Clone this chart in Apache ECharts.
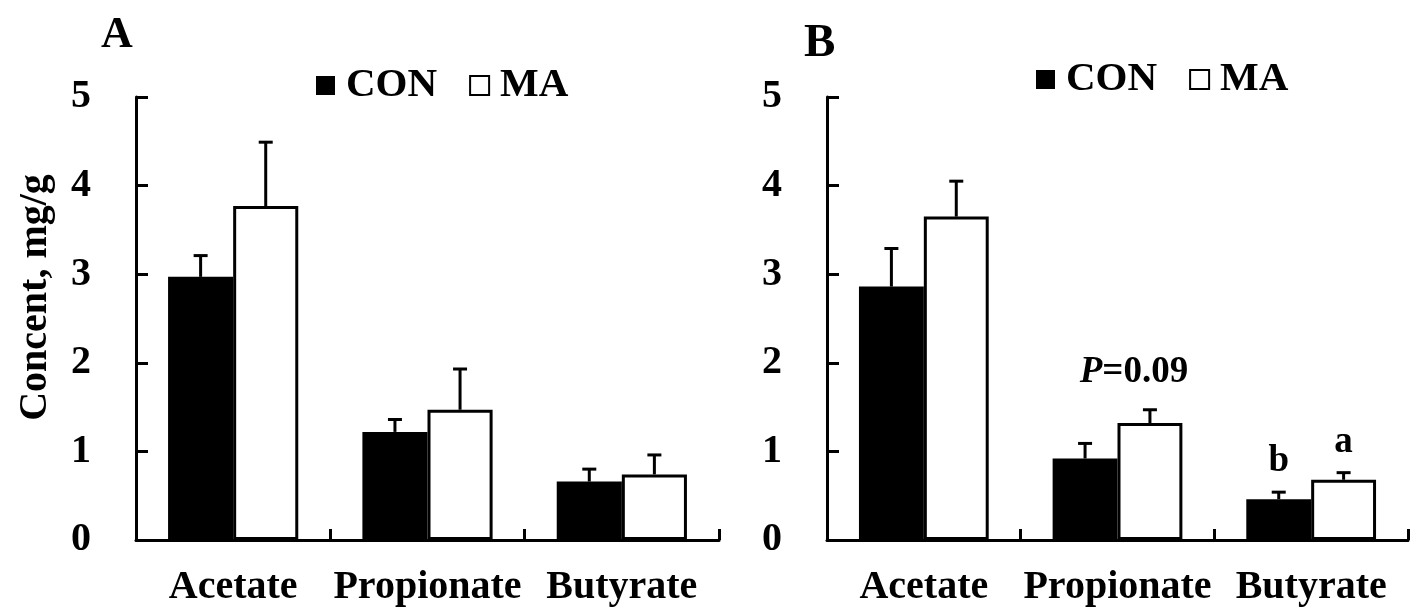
<!DOCTYPE html>
<html>
<head>
<meta charset="utf-8">
<script src="https://cdn.jsdelivr.net/npm/echarts@6/dist/echarts.min.js"></script>
<style>
  html, body { margin: 0; padding: 0; background: #fff; }
  #main { width: 1418px; height: 616px; }
</style>
</head>
<body>
<div id="main"></div>
<script>
var categories = ['Acetate', 'Propionate', 'Butyrate'];
var yTicks = [0, 1, 2, 3, 4, 5];

// panel A
var conA = [2.97, 1.22, 0.66];
var conAErr = [0.24, 0.14, 0.14];
var maA = [3.77, 1.47, 0.74];
var maAErr = [0.72, 0.46, 0.22];

// panel B
var conB = [2.86, 0.92, 0.46];
var conBErr = [0.43, 0.17, 0.08];
var maB = [3.65, 1.32, 0.68];
var maBErr = [0.40, 0.15, 0.08];
var conBNotes = ['', '', 'b'];
var maBNotes = ['', 'P=0.09', 'a'];

var FONT = 'Liberation Serif';
var GAP = 0.33;

function errData(vals, errs) {
    return vals.map(function (v, i) { return [i, v, errs[i]]; });
}

function errRender(side, notes) {
    return function (params, api) {
        var i = api.value(0), v = api.value(1), e = api.value(2);
        var band = api.size([1, 0])[0];
        var off = side * band * (1 - GAP) / 4;
        var base = api.coord([i, v]);
        var top = api.coord([i, v + e]);
        var x = base[0] + off;
        var kids = [
            { type: 'line', shape: { x1: x, y1: base[1], x2: x, y2: top[1] },
              style: { stroke: '#000', lineWidth: 3 } },
            { type: 'line', shape: { x1: x - 7, y1: top[1], x2: x + 7, y2: top[1] },
              style: { stroke: '#000', lineWidth: 3 } }
        ];
        var note = notes ? notes[params.dataIndex] : '';
        if (note) {
            var isP = note.charAt(0) === 'P';
            kids.push({
                type: 'text',
                x: isP ? x - 16 : x,
                y: top[1] - (isP ? 19 : 12),
                style: {
                    text: isP ? '{i|P}' + note.slice(1) : note,
                    fontFamily: FONT, fontWeight: 'bold', fontSize: 37,
                    fill: '#000', align: 'center', verticalAlign: 'bottom',
                    rich: { i: { fontStyle: 'italic', fontFamily: FONT, fontWeight: 'bold', fontSize: 37 } }
                }
            });
        }
        return { type: 'group', children: kids };
    };
}

function xAxisOf(idx) {
    return {
        type: 'category', gridIndex: idx, data: categories,
        axisLine: { show: true, lineStyle: { color: '#000', width: 3 } },
        axisTick: { show: true, inside: true, length: 11, interval: 0, lineStyle: { color: '#000', width: 3 } },
        axisLabel: { color: '#000', fontFamily: FONT, fontWeight: 'bold', fontSize: 40, margin: 28, interval: 0 }
    };
}

function yAxisOf(idx, name) {
    return {
        type: 'value', gridIndex: idx, min: yTicks[0], max: yTicks[yTicks.length - 1], interval: 1,
        name: name, nameLocation: 'middle', nameGap: 80, nameRotate: 90,
        nameTextStyle: { color: '#000', fontFamily: FONT, fontWeight: 'bold', fontSize: 40, padding: [0, 0, 0, 42] },
        axisLine: { show: true, lineStyle: { color: '#000', width: 3 } },
        axisTick: { show: true, inside: true, length: 12, lineStyle: { color: '#000', width: 3 } },
        splitLine: { show: false },
        axisLabel: { color: '#000', fontFamily: FONT, fontWeight: 'bold', fontSize: 40, margin: 45 }
    };
}

function bars(name, idx, vals, filled) {
    return {
        name: name, type: 'bar', xAxisIndex: idx, yAxisIndex: idx,
        data: vals, barGap: '0%', barCategoryGap: (GAP * 100) + '%',
        itemStyle: filled ? { color: '#000', borderColor: '#000', borderWidth: 0 }
                          : { color: '#fff', borderColor: '#000', borderWidth: 3 },
        emphasis: { disabled: true }
    };
}

function errs(name, idx, vals, e, side, notes) {
    return {
        name: name, type: 'custom', xAxisIndex: idx, yAxisIndex: idx, z: 5,
        data: errData(vals, e), renderItem: errRender(side, notes), silent: true
    };
}

function legendAt(left, top) {
    return {
        left: left, top: top, itemWidth: 19, itemHeight: 19, itemGap: 32,
        data: [
            { name: 'CON', icon: 'rect', itemStyle: { color: '#000', borderWidth: 0 } },
            { name: 'MA', icon: 'rect', itemStyle: { color: '#fff', borderColor: '#000', borderWidth: 2 } }
        ],
        textStyle: { color: '#000', fontFamily: FONT, fontWeight: 'bold', fontSize: 41, padding: [0, 0, 0, 6] },
        selectedMode: false
    };
}

var myChart = echarts.init(document.getElementById('main'));

var option = {
    backgroundColor: '#fff',
    animation: false,
    title: [
        { text: 'A', left: 96, top: 9, textStyle: { color: '#000', fontFamily: FONT, fontWeight: 'bold', fontSize: 44 } },
        { text: 'B', left: 799, top: 15, textStyle: { color: '#000', fontFamily: FONT, fontWeight: 'bold', fontSize: 47 } }
    ],
    legend: [legendAt(311, 60), legendAt(1031, 54)],
    grid: [
        { left: 136, right: 699, top: 97, bottom: 76 },
        { left: 827, right: 10, top: 97, bottom: 76 }
    ],
    xAxis: [xAxisOf(0), xAxisOf(1)],
    yAxis: [yAxisOf(0, 'Concent, mg/g'), yAxisOf(1, '')],
    series: [
        bars('CON', 0, conA, true),
        bars('MA', 0, maA, false),
        errs('CON', 0, conA, conAErr, -1),
        errs('MA', 0, maA, maAErr, 1),
        bars('CON', 1, conB, true),
        bars('MA', 1, maB, false),
        errs('CON', 1, conB, conBErr, -1, conBNotes),
        errs('MA', 1, maB, maBErr, 1, maBNotes)
    ]
};

myChart.setOption(option);
</script>
</body>
</html>
